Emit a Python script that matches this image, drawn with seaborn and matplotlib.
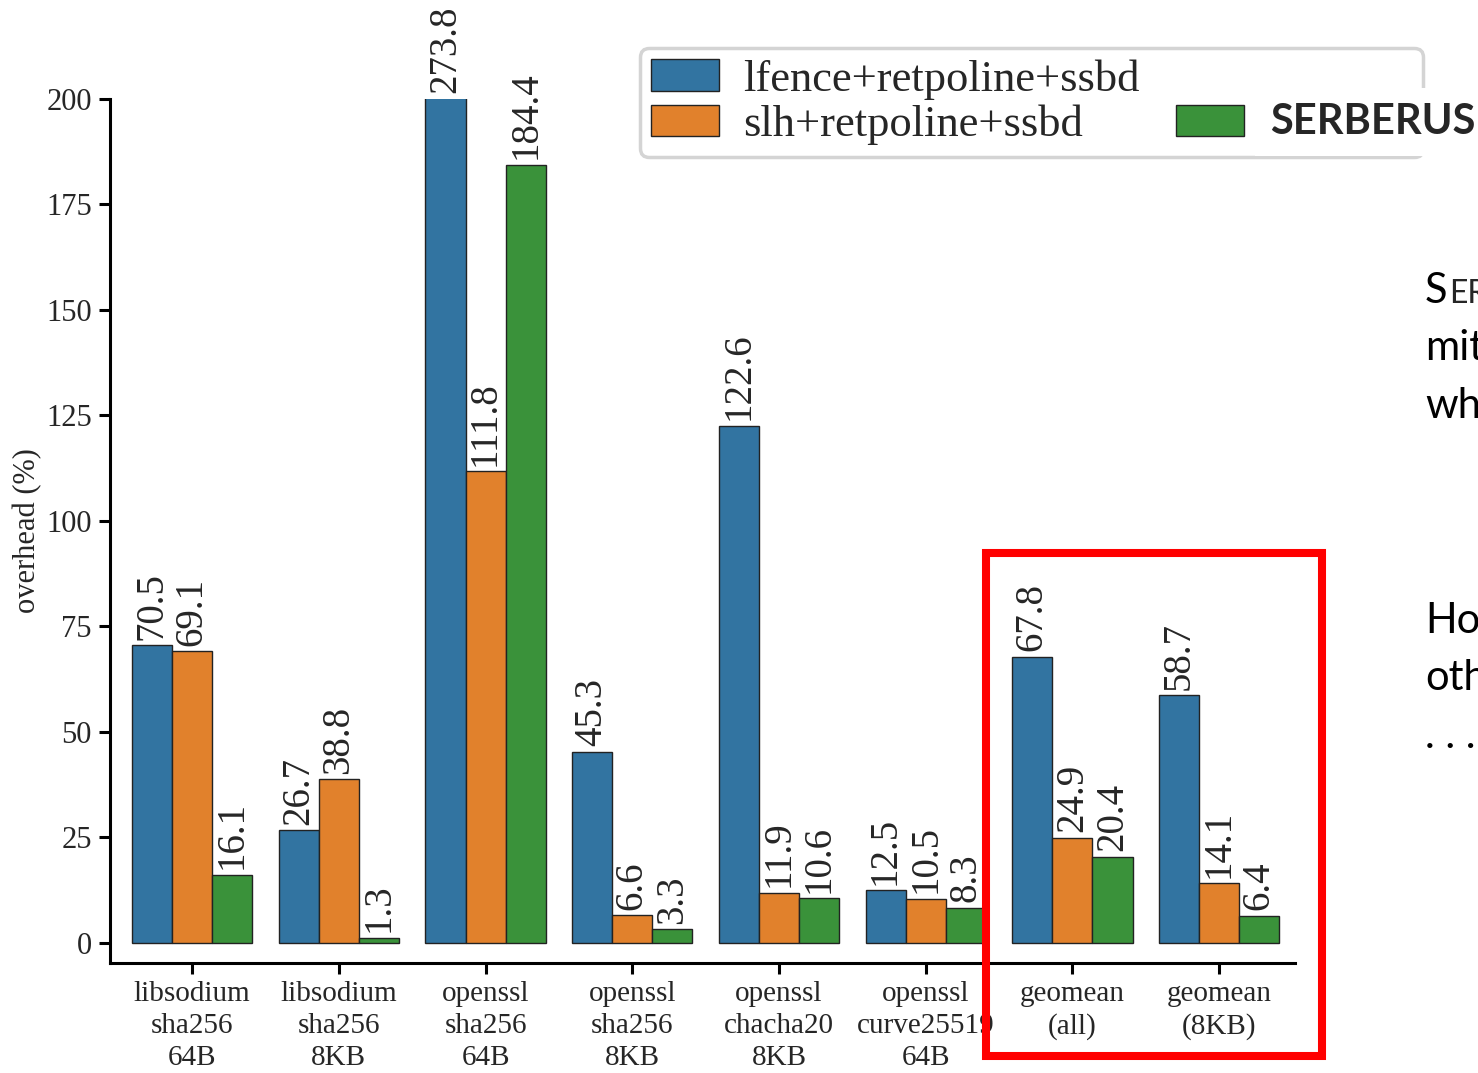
import matplotlib
matplotlib.use("Agg")
import matplotlib.pyplot as plt
from matplotlib.patches import Patch, Rectangle
import pandas as pd
import seaborn as sns

# values
benchmarks = [
    "libsodium\nsha256\n64B", "libsodium\nsha256\n8KB", "openssl\nsha256\n64B",
    "openssl\nsha256\n8KB", "openssl\nchacha20\n8KB", "openssl\ncurve25519\n64B",
    "geomean\n(all)", "geomean\n(8KB)",
]
configs = ["lfence+retpoline+ssbd", "slh+retpoline+ssbd", "SERBERUS"]
lfence = [70.5, 26.7, 273.8, 45.3, 122.6, 12.5, 67.8, 58.7]
slh = [69.1, 38.8, 111.8, 6.6, 11.9, 10.5, 24.9, 14.1]
serberus = [16.1, 1.3, 184.4, 3.3, 10.6, 8.3, 20.4, 6.4]
yticks = [0, 25, 50, 75, 100, 125, 150, 175, 200]
y_max = 200

df = pd.DataFrame({
    "benchmark": benchmarks * 3,
    "config": [c for c in configs for _ in benchmarks],
    "overhead": lfence + slh + serberus,
})

sns.set_theme(style="ticks")
plt.rcParams["font.family"] = ["Liberation Serif", "DejaVu Serif"]

W, H = 1478, 1073
fig = plt.figure(figsize=(W / 100, H / 100), dpi=100)
ax = fig.add_axes([110 / W, 1 - 963 / H, 1185 / W, 864 / H])

sns.barplot(data=df, x="benchmark", y="overhead", hue="config", palette="tab10",
            width=0.82, edgecolor="#222222", linewidth=1, ax=ax, legend=False)

ax.set_ylim(-4.74, y_max)
ax.set_xlim(-0.56, 7.517)
ax.set_yticks(yticks)
ax.set_xlabel("")
ax.set_ylabel("overhead (%)", fontsize=22, labelpad=3)

for cont in ax.containers:
    anns = ax.bar_label(cont, fmt="%.1f", rotation=90, padding=4, fontsize=28)
    for a in anns:
        a.set_annotation_clip(False)
        if a.xy[1] > y_max:
            a.xy = (a.xy[0], y_max)

sns.despine(ax=ax)
for s in ["left", "bottom"]:
    ax.spines[s].set_linewidth(2.2)
    ax.spines[s].set_color("black")
ax.tick_params(axis="both", length=8, width=2.2, labelsize=21, pad=5, color="black")
ax.tick_params(axis="y", labelsize=22)
for t in ax.get_xticklabels():
    t.set_linespacing(1.3)

# legend; third label is blank space, the slide puts its own text on top
cols = [c.patches[0].get_facecolor() for c in ax.containers]
handles = [Patch(facecolor=cols[0], edgecolor="#222222"),
           Patch(facecolor=cols[1], edgecolor="#222222"),
           Patch(visible=False),
           Patch(facecolor=cols[2], edgecolor="#222222")]
labels = [configs[0], configs[1], "\u00a0", "\u00a0" * 13]
leg = fig.legend(handles, labels, ncol=2, loc="upper left",
                 bbox_to_anchor=(640 / W, 1 - 48 / H), borderaxespad=0,
                 fontsize=32, handlelength=1.53, handleheight=0.70,
                 handletextpad=0.54, columnspacing=0.81, labelspacing=0.12,
                 borderpad=0.25, fancybox=True, framealpha=1, edgecolor="#d4d4d4")
leg.get_frame().set_linewidth(2.5)

# slide overlay on the legend
fig.text(1270 / W, 1 - 122 / H, configs[2], family=["Lato", "DejaVu Sans"],
         weight="bold", fontsize=30, va="center", ha="left", zorder=10,
         bbox=dict(boxstyle="square,pad=0.35", fc="white", ec="none"))

# highlight box
fig.add_artist(Rectangle((986 / W, 1 - 1056 / H), (1322 - 986) / W, (1056 - 553) / H,
                         transform=fig.transFigure, fill=False, ec="red", lw=5.8))

# cut-off slide text on the right
slide = dict(family=["Lato", "DejaVu Sans"], fontsize=30, color="black", va="baseline")
fig.text(1425 / W, 1 - 303 / H, "S", **slide)
fig.text(1449 / W, 1 - 303 / H, "ERBERUS", family=["Lato", "DejaVu Sans"],
         fontsize=23, va="baseline")
fig.text(1425 / W, 1 - 360 / H, "mitigates", **slide)
fig.text(1425 / W, 1 - 418 / H, "which", **slide)
fig.text(1425 / W, 1 - 633 / H, "However", **slide)
fig.text(1425 / W, 1 - 690 / H, "other", **slide)
fig.text(1425 / W, 1 - 748 / H, ". . .", **slide)

fig.savefig("out.png", dpi=100)
